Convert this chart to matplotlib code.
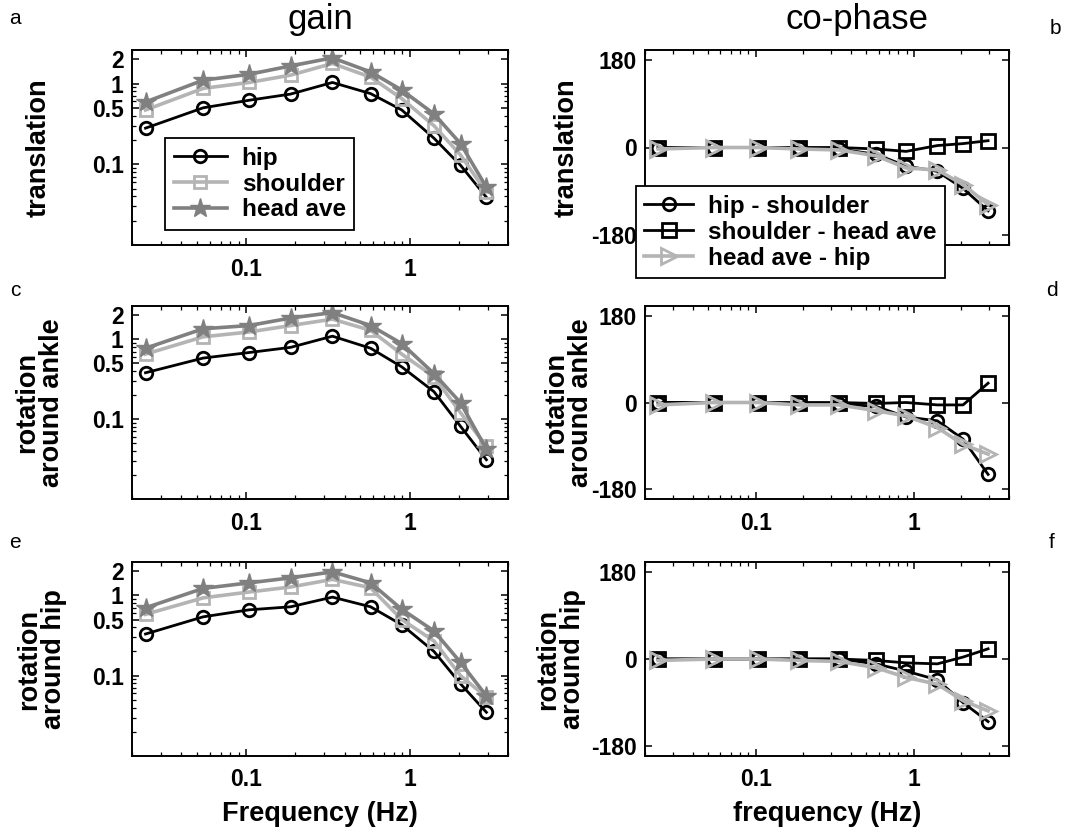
import matplotlib
matplotlib.use('Agg')
import matplotlib.pyplot as plt
from matplotlib.ticker import LogLocator, NullFormatter, FixedLocator

plt.rcParams['font.family'] = ['Liberation Sans', 'DejaVu Sans']

# stimulus frequencies (Hz)
freq = [0.0242, 0.0545, 0.104, 0.187, 0.337, 0.577, 0.895, 1.41, 2.05, 2.95]

# gain values
gain_trans_hip = [0.28, 0.50, 0.62, 0.74, 1.03, 0.75, 0.47, 0.21, 0.097, 0.039]
gain_trans_shoulder = [0.47, 0.87, 1.03, 1.27, 1.77, 1.20, 0.65, 0.30, 0.13, 0.045]
gain_trans_head = [0.59, 1.10, 1.30, 1.65, 2.08, 1.39, 0.83, 0.42, 0.18, 0.052]

gain_ankle_hip = [0.38, 0.58, 0.68, 0.79, 1.09, 0.77, 0.45, 0.22, 0.081, 0.031]
gain_ankle_shoulder = [0.65, 1.07, 1.23, 1.48, 1.78, 1.29, 0.65, 0.34, 0.12, 0.046]
gain_ankle_head = [0.77, 1.35, 1.48, 1.84, 2.15, 1.48, 0.88, 0.37, 0.16, 0.042]

gain_hip_hip = [0.33, 0.54, 0.66, 0.72, 0.95, 0.72, 0.43, 0.20, 0.079, 0.035]
gain_hip_shoulder = [0.58, 0.93, 1.10, 1.27, 1.58, 1.24, 0.50, 0.27, 0.10, 0.054]
gain_hip_head = [0.70, 1.22, 1.43, 1.65, 1.96, 1.43, 0.67, 0.36, 0.146, 0.056]

# co-phase values (deg)
phase_trans_hs = [0, 0, 0, 0, -3, -14, -38, -49, -84, -130]
phase_trans_sh = [0, 0, 0, 0, 0, -3, -8, 4, 8, 14]
phase_trans_hh = [-3, 0, 0, -3, -5, -17, -42, -46, -76, -117]

phase_ankle_hs = [0, 0, 0, -3, -3, -8, -30, -38, -76, -149]
phase_ankle_sh = [0, 0, 0, 0, 0, -2, 0, -5, -5, 40]
phase_ankle_hh = [-5, 0, 0, -5, -5, -17, -28, -52, -87, -107]

phase_hip_hs = [0, 0, 0, 0, 0, -10, -25, -43, -90, -129]
phase_hip_sh = [0, 0, 0, 0, 0, -3, -8, -10, 4, 21]
phase_hip_hh = [-3, 0, 0, -3, -5, -18, -38, -52, -86, -107]

gain_labels = ['hip', 'shoulder', 'head ave']
phase_labels = ['hip - shoulder', 'shoulder - head ave', 'head ave - hip']
row_labels = ['translation', 'rotation\naround ankle', 'rotation\naround hip']

LIGHT = '#b4b4b4'
MID = '#808080'
W, H = 1070.0, 833.0


def add_axes(x0, x1, y0, y1):
    # pixel box -> figure fraction
    return fig.add_axes([x0 / W, 1 - y1 / H, (x1 - x0) / W, (y1 - y0) / H])


def style_axes(ax):
    ax.set_xscale('log')
    ax.set_xlim(0.02, 4.0)
    ax.xaxis.set_major_locator(FixedLocator([0.1, 1]))
    ax.set_xticklabels(['0.1', '1'])
    ax.xaxis.set_minor_locator(LogLocator(subs=range(2, 10)))
    ax.xaxis.set_minor_formatter(NullFormatter())
    ax.tick_params(which='both', direction='in', top=True, right=True,
                   labelsize=16.5)
    ax.tick_params(which='major', length=5, width=1.1)
    ax.tick_params(which='minor', length=3, width=0.9)
    ax.tick_params(axis='x', pad=9)
    ax.tick_params(axis='y', pad=6)
    for lbl in ax.get_xticklabels() + ax.get_yticklabels():
        lbl.set_fontweight('bold')
    for s in ax.spines.values():
        s.set_linewidth(1.4)


def gain_plot(ax, hip, shoulder, head):
    ax.plot(freq, hip, color='black', lw=2, marker='o', ms=9, mfc='none',
            mec='black', mew=2, label=gain_labels[0])
    ax.plot(freq, shoulder, color=LIGHT, lw=2.6, marker='s', ms=9, mfc='none',
            mec=LIGHT, mew=2, label=gain_labels[1])
    ax.plot(freq, head, color=MID, lw=2.6, marker='*', ms=15, mfc=MID,
            mec=MID, label=gain_labels[2])
    ax.set_yscale('log')
    ax.set_ylim(0.01, 2.6)
    ax.yaxis.set_major_locator(FixedLocator([0.1, 0.5, 1, 2]))
    ax.yaxis.set_minor_locator(LogLocator(subs=range(2, 10)))
    ax.yaxis.set_minor_formatter(NullFormatter())
    ax.set_yticklabels(['0.1', '0.5', '1', '2'])
    style_axes(ax)


def phase_plot(ax, hs, sh, hh):
    ax.plot(freq, hs, color='black', lw=2, marker='o', ms=9, mfc='none',
            mec='black', mew=2, label=phase_labels[0])
    ax.plot(freq, sh, color='black', lw=2, marker='s', ms=10, mfc='none',
            mec='black', mew=2, label=phase_labels[1])
    ax.plot(freq, hh, color=LIGHT, lw=2.6, marker='>', ms=11, mfc='none',
            mec=LIGHT, mew=2, label=phase_labels[2])
    ax.set_ylim(-200, 200)
    ax.set_yticks([-180, 0, 180])
    ax.set_yticklabels(['-180', '0', '180'])
    style_axes(ax)


fig = plt.figure(figsize=(10.7, 8.33), dpi=100)

rows = [(50, 245), (306, 499), (562, 756)]
left_axes = [add_axes(132, 508, y0, y1) for y0, y1 in rows]
right_axes = [add_axes(645, 1009, y0, y1) for y0, y1 in rows]

gain_plot(left_axes[0], gain_trans_hip, gain_trans_shoulder, gain_trans_head)
gain_plot(left_axes[1], gain_ankle_hip, gain_ankle_shoulder, gain_ankle_head)
gain_plot(left_axes[2], gain_hip_hip, gain_hip_shoulder, gain_hip_head)

phase_plot(right_axes[0], phase_trans_hs, phase_trans_sh, phase_trans_hh)
phase_plot(right_axes[1], phase_ankle_hs, phase_ankle_sh, phase_ankle_hh)
phase_plot(right_axes[2], phase_hip_hs, phase_hip_sh, phase_hip_hh)
# tick labels of panel b sit under the legend
right_axes[0].tick_params(axis='x', labelbottom=False)

# row labels
left_lx = [52, 65, 67]
right_lx = [580, 594, 586]
for i in range(3):
    for ax, px, x0, w in [(left_axes[i], left_lx[i], 132, 376),
                          (right_axes[i], right_lx[i], 645, 364)]:
        ax.set_ylabel(row_labels[i], fontsize=19.5, fontweight='bold',
                      linespacing=0.95)
        ax.yaxis.set_label_coords((px - x0) / w, 0.5)

left_axes[2].set_xlabel('Frequency (Hz)', fontsize=19.5, fontweight='bold',
                        labelpad=7)
right_axes[2].set_xlabel('frequency (Hz)', fontsize=19.5, fontweight='bold',
                         labelpad=7)

# legends
leg = left_axes[0].legend(loc='lower left', bbox_to_anchor=(0.088, 0.077),
                          borderaxespad=0, fancybox=False,
                          framealpha=1, edgecolor='black',
                          prop={'weight': 'bold', 'size': 17.5},
                          handlelength=2.2, handletextpad=0.6,
                          labelspacing=0.12, borderpad=0.35)
leg.get_frame().set_linewidth(1.3)
leg = right_axes[0].legend(loc='lower left', bbox_to_anchor=(-0.025, -0.17),
                           borderaxespad=0, fancybox=False,
                           framealpha=1, edgecolor='black',
                           prop={'weight': 'bold', 'size': 17.5},
                           handlelength=2.0, handletextpad=0.6,
                           labelspacing=0.12, borderpad=0.35)
leg.get_frame().set_linewidth(1.3)
leg.set_zorder(10)

# column titles and panel letters
fig.text(320 / W, 1 - 20 / H, 'gain', fontsize=25, ha='center', va='center')
fig.text(857 / W, 1 - 20 / H, 'co-phase', fontsize=25, ha='center',
         va='center')
letters = [('a', 15, 18), ('b', 1055, 28), ('c', 15, 290), ('d', 1052, 290),
           ('e', 15, 542), ('f', 1052, 542)]
for t, x, y in letters:
    fig.text(x / W, 1 - y / H, t, fontsize=15, ha='center', va='center')

fig.savefig('out.png', dpi=100)
